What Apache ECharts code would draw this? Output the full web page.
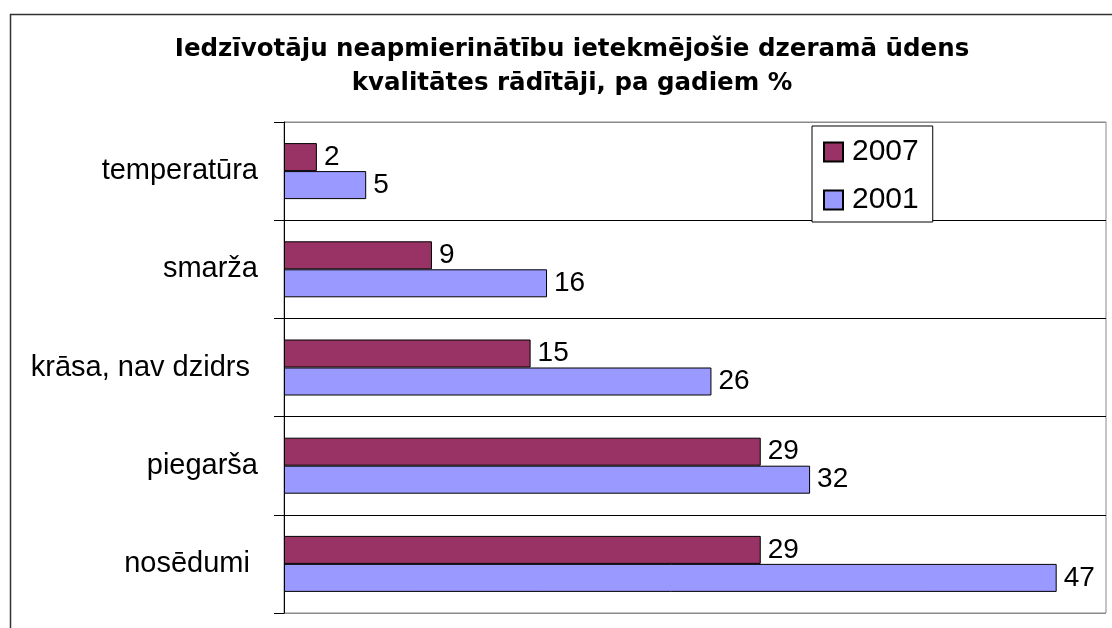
<!DOCTYPE html>
<html>
<head>
<meta charset="utf-8">
<script src="https://cdn.jsdelivr.net/npm/echarts@6/dist/echarts.min.js"></script>
<style>
  html, body { margin: 0; padding: 0; background: #fff; }
  #chart { width: 1112px; height: 628px; }
</style>
</head>
<body>
<div id="chart"></div>
<script>
// Water quality indicators behind residents' dissatisfaction, % by year
const titleLines = [
  'Iedzīvotāju neapmierinātību ietekmējošie dzeramā ūdens',
  'kvalitātes rādītāji, pa gadiem %'
];
const categories = ['temperatūra', 'smarža', 'krāsa, nav dzidrs ', 'piegarša', 'nosēdumi '];
const seriesNames = ['2007', '2001'];
const values2007 = [2, 9, 15, 29, 29];
const values2001 = [5, 16, 26, 32, 47];
const seriesColors = ['#993366', '#9999FF'];

const chart = echarts.init(document.getElementById('chart'), null, { renderer: 'canvas' });

const barSeries = (name, data, color) => ({
  name: name,
  type: 'bar',
  data: data,
  barWidth: 28,
  barGap: '0%',
  itemStyle: { color: color, borderColor: '#000', borderWidth: 1 },
  label: {
    show: true,
    position: 'right',
    distance: 7,
    color: '#000',
    fontFamily: 'Liberation Sans, Arial, sans-serif',
    fontSize: 28
  },
  emphasis: { disabled: true },
  animation: false
});

chart.setOption({
  animation: false,
  backgroundColor: '#fff',
  title: {
    text: titleLines.join('\n'),
    left: 567,
    textAlign: 'center',
    top: 28,
    textStyle: {
      fontFamily: 'DejaVu Sans, sans-serif',
      fontWeight: 'bold',
      fontSize: 24.5,
      lineHeight: 34,
      color: '#000'
    }
  },
  legend: {
    orient: 'vertical',
    left: 812,
    top: 126,
    padding: [11, 14, 7, 11],
    itemWidth: 19,
    itemHeight: 19,
    itemGap: 18,
    backgroundColor: '#fff',
    borderColor: '#000',
    borderWidth: 1,
    borderRadius: 0,
    icon: 'rect',
    textStyle: {
      fontFamily: 'Liberation Sans, Arial, sans-serif',
      fontSize: 30,
      lineHeight: 30,
      color: '#000',
      padding: [0, 0, 0, 4]
    },
    data: seriesNames
  },
  grid: {
    left: 284,
    top: 122,
    width: 822,
    height: 491,
    show: true,
    borderColor: '#8a8a8a',
    borderWidth: 1,
    backgroundColor: '#fff',
    containLabel: false
  },
  xAxis: {
    type: 'value',
    min: 0,
    max: 50,
    show: false
  },
  yAxis: {
    type: 'category',
    inverse: true,
    data: categories,
    axisLine: { show: true, lineStyle: { color: '#000', width: 1 } },
    axisTick: { show: true, length: 10, lineStyle: { color: '#000' } },
    axisLabel: {
      margin: 26,
      color: '#000',
      fontFamily: 'Liberation Sans, Arial, sans-serif',
      fontSize: 29
    },
    splitLine: {
      show: true,
      lineStyle: { color: ['#8a8a8a', '#000', '#000', '#000', '#000', '#8a8a8a'], width: 1 }
    }
  },
  graphic: [{
    type: 'rect',
    left: 8,
    top: 12,
    shape: { width: 1200, height: 700 },
    style: { fill: null, stroke: '#333', lineWidth: 1.5 },
    silent: true,
    z: -10
  }],
  series: [
    barSeries(seriesNames[0], values2007, seriesColors[0]),
    barSeries(seriesNames[1], values2001, seriesColors[1])
  ]
});
</script>
</body>
</html>
